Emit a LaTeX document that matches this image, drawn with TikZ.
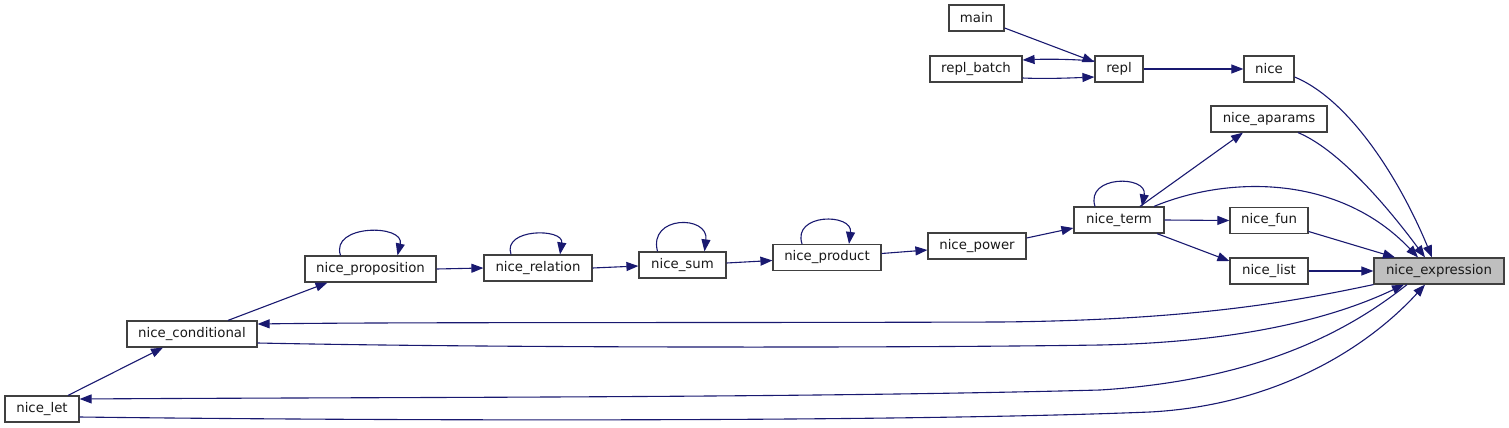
\documentclass[tikz,border=0pt]{standalone}
\usepackage{fontspec}
\setmainfont{DejaVu Sans}
\usetikzlibrary{arrows.meta,calc}
\definecolor{edgecol}{RGB}{25,25,112}
\definecolor{boxcol}{RGB}{64,64,64}
\definecolor{hlfill}{RGB}{191,191,191}
\begin{document}
\begin{tikzpicture}[x=1pt,y=-1pt,
  fn/.style={draw=boxcol,line width=1.2pt,fill=white,minimum height=26pt,inner sep=0pt,
    font=\fontsize{13.3}{16}\selectfont,text=black!90},
  hl/.style={fn,fill=hlfill},
  call/.style={draw=edgecol,line width=1.1pt,-{Triangle[length=12pt,width=9pt]},edgecol}
]
\useasboundingbox (0,0) rectangle (1509,428);
% nodes
\node[fn,minimum width=55pt] (main) at (976.5,18) {main};
\node[fn,minimum width=92pt] (rb) at (976,69) {repl\_batch};
\node[fn,minimum width=48pt] (repl) at (1119,69) {repl};
\node[fn,minimum width=50pt] (nice) at (1269,69) {nice};
\node[fn,minimum width=116pt] (apar) at (1269,119) {nice\_aparams};
\node[fn,minimum width=90pt] (term) at (1119,220) {nice\_term};
\node[fn,minimum width=78pt] (fun) at (1269,220.5) {nice\_fun};
\node[fn,minimum width=78pt] (list) at (1269,271) {nice\_list};
\node[hl,minimum width=130pt] (expr) at (1439,271) {nice\_expression};
\node[fn,minimum width=98pt] (pow) at (977,246) {nice\_power};
\node[fn,minimum width=108pt] (prod) at (827,257.5) {nice\_product};
\node[fn,minimum width=87pt] (sum) at (682.5,265) {nice\_sum};
\node[fn,minimum width=108pt] (rel) at (538,268) {nice\_relation};
\node[fn,minimum width=131pt] (prop) at (370.5,269) {nice\_proposition};
\node[fn,minimum width=130pt] (cond) at (192,334) {nice\_conditional};
\node[fn,minimum width=74pt] (let) at (42,409) {nice\_let};

% top group
\draw[call] ($(main.east)+(0,10)$) -- ($(repl.west)+(0,-7)$);
\draw[call] ($(repl.west)+(0,-8)$) .. controls (1070,59) and (1045,59) .. ($(rb.east)+(0,-9)$);
\draw[call] ($(rb.east)+(0,9)$) .. controls (1045,79) and (1070,78) .. ($(repl.west)+(0,8)$);
\draw[call] (repl.east) -- (nice.west);

% into nice_expression from above
\draw[call] ($(nice.east)+(0,8)$) .. controls (1350,100) and (1400,180) .. ($(expr.north)+(-7,0)$);
\draw[call] ($(apar.south)+(29,0)$) .. controls (1340,150) and (1390,210) .. ($(expr.north)+(-14,0)$);
\draw[call] ($(term.north)+(35,0)$) .. controls (1230,175) and (1340,175) .. ($(expr.north)+(-21,0)$);
\draw[call] ($(fun.east)+(0,11)$) -- ($(expr.north)+(-44,0)$);
\draw[call] (list.east) -- (expr.west);

% nice_term
\draw[call] ($(term.north)+(21,0)$) -- ($(apar.south)+(-26,0)$);
\draw[call] ($(term.north)+(-24,0)$) .. controls (1085,175) and (1148,175) .. ($(term.north)+(23,0)$);
\draw[call] (term.east) -- (fun.west);
\draw[call] ($(term.south)+(38,0)$) -- ($(list.west)+(0,-10)$);

% chain
\draw[call] ($(pow.east)+(0,-8)$) -- ($(term.west)+(0,8)$);
\draw[call] ($(prod.east)+(0,-4)$) -- ($(pow.west)+(0,4)$);
\draw[call] ($(sum.east)+(0,-2)$) -- ($(prod.west)+(0,3)$);
\draw[call] (rel.east) -- ($(sum.west)+(0,1)$);
\draw[call] (prop.east) -- (rel.west);
\draw[call] ($(cond.north)+(36,0)$) -- ($(prop.south)+(-43,0)$);
\draw[call] ($(let.north)+(26,0)$) -- ($(cond.south)+(-29,0)$);

% self loops
\draw[call] ($(prod.north)+(-25,0)$) .. controls (792,213) and (853,213) .. ($(prod.north)+(22,0)$);
\draw[call] ($(sum.north)+(-25,0)$) .. controls (648,215) and (709,215) .. ($(sum.north)+(22,0)$);
\draw[call] ($(rel.north)+(-27,0)$) .. controls (502,228) and (564,228) .. ($(rel.north)+(22,0)$);
\draw[call] ($(prop.north)+(-30,0)$) .. controls (330,224) and (405,224) .. ($(prop.north)+(27,0)$);

% long returns
\draw[call] (expr.south west) .. controls (1300,300) and (1200,320) .. (1000,322)
  .. controls (700,323) and (400,322) .. ($(cond.east)+(0,-10)$);
\draw[call] ($(cond.east)+(0,9)$) .. controls (500,348) and (900,348) .. (1100,345)
  .. controls (1250,342) and (1340,315) .. ($(expr.south)+(-35,0)$);
\draw[call] ($(expr.south)+(-32,0)$) .. controls (1350,330) and (1260,380) .. (1100,390)
  .. controls (800,398) and (400,397) .. ($(let.east)+(0,-10)$);
\draw[call] ($(let.east)+(0,8)$) .. controls (400,421) and (900,422) .. (1150,412)
  .. controls (1280,405) and (1370,345) .. ($(expr.south)+(-14,0)$);
\end{tikzpicture}
\end{document}
